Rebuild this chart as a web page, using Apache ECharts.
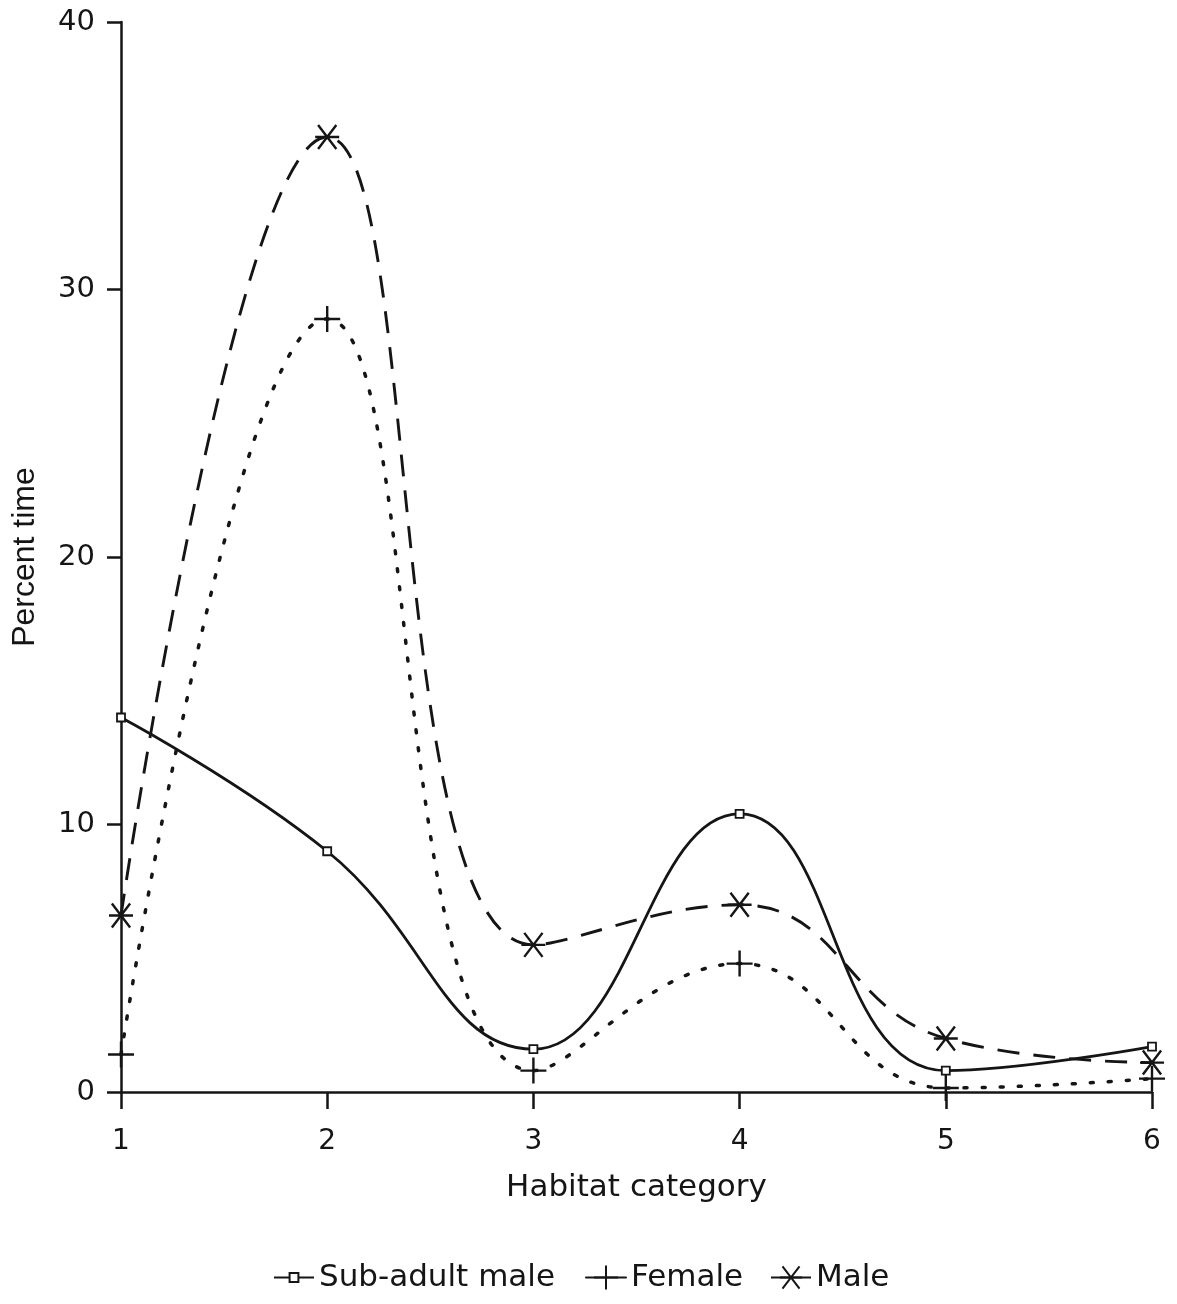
<!DOCTYPE html>
<html>
<head>
<meta charset="utf-8">
<script src="https://cdn.jsdelivr.net/npm/echarts@6/dist/echarts.min.js"></script>
<style>
html,body{margin:0;padding:0;background:#fff;}
#chart{width:1177px;height:1304px;}
</style>
</head>
<body>
<div id="chart"></div>
<script>
// Data
const habitatCategories = [1, 2, 3, 4, 5, 6];
const subAdultMale = [14.0, 9.0, 1.6, 10.4, 0.8, 1.7];
const female = [1.4, 28.9, 0.8, 4.8, 0.15, 0.5];
const male = [6.6, 35.7, 5.5, 7.0, 2.0, 1.1];
const yTicks = [0, 10, 20, 30, 40];
const seriesNames = ['Sub-adult male', 'Female', 'Male'];

const ink = '#151515';
const font = 'DejaVu Sans';

const squareSym = 'path://M0,0 L10,0 L10,10 L0,10 Z';
const plusSym = 'path://M0,5 L10,5 M5,0 L5,10';
const starSym = 'path://M0,5 L10,5 M1.2,0 L8.8,10 M8.8,0 L1.2,10';

function pairs(vals) { return habitatCategories.map((x, i) => [x, vals[i]]); }

function legendFor(name, left, h) {
  return {
    data: [name], left: left, top: 1257,
    itemWidth: 40, itemHeight: h, itemGap: 0,
    lineStyle: { type: 'solid', width: 2 },
    textStyle: { color: ink, fontFamily: font, fontSize: 31 }
  };
}

const chart = echarts.init(document.getElementById('chart'));
chart.setOption({
  animation: false,
  backgroundColor: '#fff',
  grid: { left: 121, right: 25, top: 22, bottom: 212 },
  legend: [
    legendFor(seriesNames[0], 268, 11),
    legendFor(seriesNames[1], 580, 30),
    legendFor(seriesNames[2], 765, 28)
  ],
  xAxis: {
    type: 'value', min: 1, max: 6, interval: 1,
    name: 'Habitat category', nameLocation: 'middle', nameGap: 80,
    nameTextStyle: { color: ink, fontFamily: font, fontSize: 31 },
    axisLine: { lineStyle: { color: ink, width: 2.5 } },
    axisTick: { length: 17, lineStyle: { color: ink, width: 2.5 } },
    axisLabel: { margin: 36, color: ink, fontFamily: font, fontSize: 28 },
    splitLine: { show: false }
  },
  yAxis: {
    type: 'value', min: yTicks[0], max: yTicks[yTicks.length - 1], interval: 10,
    name: 'Percent time', nameLocation: 'middle', nameGap: 80, nameRotate: 90,
    nameTextStyle: { color: ink, fontFamily: 'Liberation Sans Narrow, Liberation Sans', fontSize: 32 },
    axisLine: { show: true, lineStyle: { color: ink, width: 2.5 } },
    axisTick: { show: true, length: 14, lineStyle: { color: ink, width: 2.5 } },
    axisLabel: { margin: 26, color: ink, fontFamily: font, fontSize: 29 },
    splitLine: { show: false }
  },
  series: [
    {
      name: seriesNames[0], type: 'line', data: pairs(subAdultMale), smooth: 0.45,
      symbol: squareSym, symbolSize: 8,
      itemStyle: { color: '#fff', borderColor: ink, borderWidth: 1.8 },
      lineStyle: { color: ink, width: 2.8, type: 'solid' }
    },
    {
      name: seriesNames[1], type: 'line', data: pairs(female), smooth: 0.45,
      symbol: plusSym, symbolSize: 26,
      itemStyle: { color: 'none', borderColor: ink, borderWidth: 2.4 },
      lineStyle: { color: ink, width: 3.5, type: [3, 15], cap: 'round' }
    },
    {
      name: seriesNames[2], type: 'line', data: pairs(male), smooth: 0.45,
      symbol: starSym, symbolSize: 24,
      itemStyle: { color: 'none', borderColor: ink, borderWidth: 2.4 },
      lineStyle: { color: ink, width: 2.9, type: [22, 14] }
    }
  ]
});
</script>
</body>
</html>
